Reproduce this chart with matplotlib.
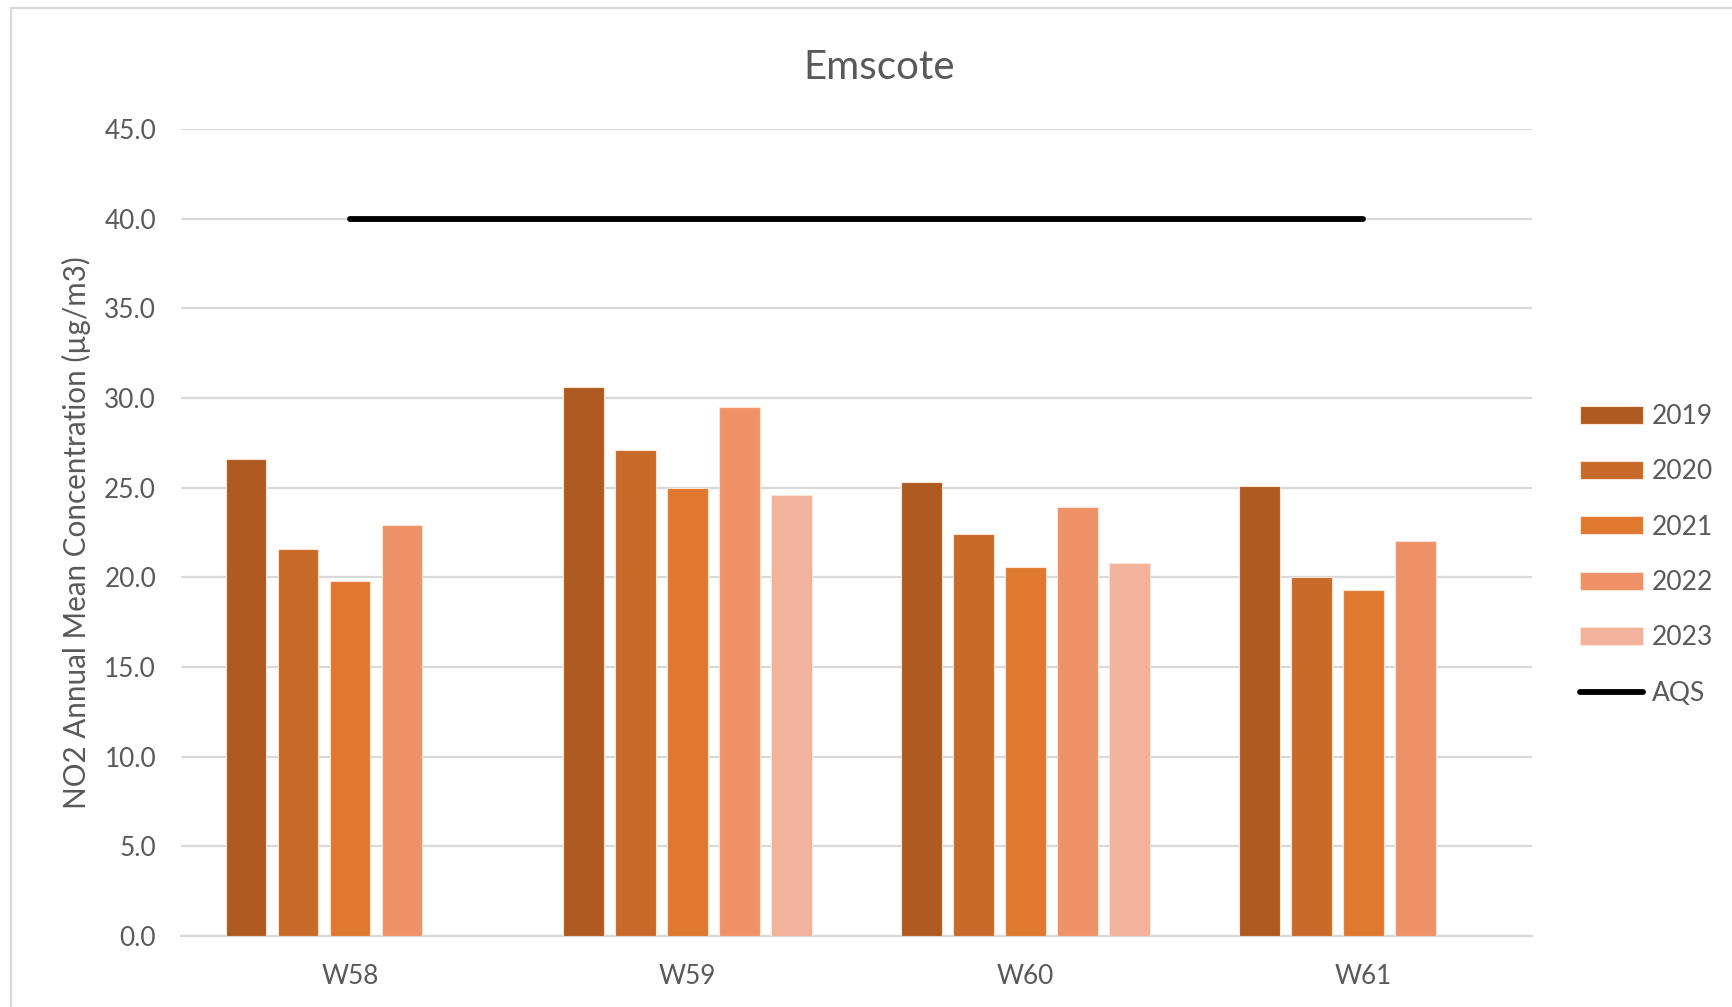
import matplotlib.pyplot as plt
import numpy as np
from matplotlib.patches import Rectangle

plt.rcParams['font.family'] = ['Lato', 'DejaVu Sans']

sites = ['W58', 'W59', 'W60', 'W61']
years = ['2019', '2020', '2021', '2022', '2023']
no2 = {
    '2019': [26.6, 30.6, 25.3, 25.1],
    '2020': [21.6, 27.1, 22.4, 20.0],
    '2021': [19.8, 25.0, 20.6, 19.3],
    '2022': [22.9, 29.5, 23.9, 22.0],
    '2023': [np.nan, 24.6, 20.8, np.nan],
}
aqs = [40.0, 40.0, 40.0, 40.0]
colors = ['#AE5A21', '#C86A2A', '#E07830', '#F09268', '#F3B29B']

text_grey = '#595959'
grid_grey = '#D9D9D9'

fig = plt.figure(figsize=(17.33, 10.07), dpi=100)
ax = fig.add_axes([0.1045, 0.0705, 0.7795, 0.8015])

x = np.arange(len(sites))
pitch = 0.154
width = 0.121
handles = []
for k, yr in enumerate(years):
    b = ax.bar(x + (k - 2) * pitch, no2[yr], width=width, color=colors[k],
               edgecolor='#FBE3D6', linewidth=0.8, label=yr, zorder=3)
    handles.append(b)

line, = ax.plot(x, aqs, color='black', linewidth=4.2, solid_capstyle='round',
                label='AQS', zorder=4)
handles.append(line)

ax.set_xlim(-0.5, 3.5)
ax.set_ylim(0, 45)
ax.set_yticks(np.arange(0, 45.1, 5))
ax.set_yticklabels([f'{v:.1f}' for v in np.arange(0, 45.1, 5)])
ax.set_xticks(x)
ax.set_xticklabels(sites)
ax.tick_params(axis='both', length=0, labelsize=18.8, colors=text_grey)
ax.tick_params(axis='y', pad=18)
ax.tick_params(axis='x', pad=20)

ax.grid(axis='y', color=grid_grey, linewidth=1.6, zorder=0)
for s in ['top', 'right', 'left']:
    ax.spines[s].set_visible(False)
ax.spines['bottom'].set_color(grid_grey)
ax.spines['bottom'].set_linewidth(1.6)
ax.spines['bottom'].set_zorder(2)

ax.set_ylabel('NO2 Annual Mean Concentration (µg/m3)', fontsize=21.3,
              color=text_grey)
ax.yaxis.set_label_coords(-0.0665, 0.5)

fig.text(0.507, 0.933, 'Emscote', ha='center', va='center',
         fontsize=29, color=text_grey)

fig.legend(handles, years + ['AQS'], loc='center left',
           bbox_to_anchor=(0.912, 0.449),
           frameon=False, fontsize=19, labelcolor=text_grey,
           handlelength=2.35, handleheight=0.68, handletextpad=0.35,
           labelspacing=1.15, borderpad=0, borderaxespad=0)

# chart frame
fig.patches.append(Rectangle((11 / 1733, -0.1), 1.2, 1 - 8 / 1007 + 0.1,
                             transform=fig.transFigure, fill=False,
                             edgecolor=grid_grey, linewidth=1.6))

fig.savefig('out.png', dpi=100)
